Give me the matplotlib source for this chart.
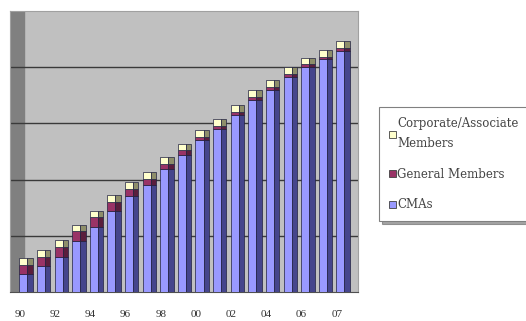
import matplotlib
matplotlib.use('Agg')
import matplotlib.pyplot as plt
from matplotlib.patches import Rectangle, Patch

# values (members, stacked)
labels = ['90', '92', '94', '96', '98', '00', '02', '04', '06', '07']
cmas = [32, 46, 63, 91, 115, 145, 170, 190, 218, 244, 270, 290, 315, 342, 360, 383, 400, 414, 429]
general = [16, 16, 17, 17, 18, 16, 13, 11, 10, 8, 6, 5, 5, 5, 5, 5, 5, 5, 5]
corporate = [12, 12, 12, 12, 12, 12, 12, 12, 12, 12, 12, 12, 12, 12, 12, 12, 12, 12, 12]

x = list(range(len(cmas)))
bottom_gen = cmas
bottom_corp = [c + g for c, g in zip(cmas, general)]

fig = plt.figure(figsize=(5.26, 3.21), dpi=100)
ax = fig.add_axes([10 / 526, 1 - 292 / 321, 348 / 526, 281 / 321])
ax.set_facecolor('#C0C0C0')

# darker side wall on the left
ax.add_patch(Rectangle((0, 0), 14 / 348, 1, transform=ax.transAxes,
                       color='#808080', zorder=0.5))

for v in [100, 200, 300, 400]:
    ax.axhline(v, color='#3a3a3a', lw=1.0, zorder=1)

front = [i - 0.38 for i in x]
side = [i + 0.08 for i in x]
segs = [
    (cmas, [0] * len(cmas), '#9999FF', '#45458C'),
    (general, bottom_gen, '#993366', '#5A1E3C'),
    (corporate, bottom_corp, '#FFFFCC', '#8E8E6A'),
]
for vals, bot, fc, sc in segs:
    ax.bar(front, vals, bottom=bot, width=0.46, align='edge', color=fc,
           edgecolor='#202040', linewidth=0.5, zorder=3)
    ax.bar(side, vals, bottom=bot, width=0.30, align='edge', color=sc,
           edgecolor='#202040', linewidth=0.5, zorder=3)

ax.set_xlim(-0.91, 18.85)
ax.set_ylim(0, 500)
ax.set_yticks([])
ax.set_xticks([i - 0.35 for i in x[::2]])
ax.set_xticklabels(labels, family='Liberation Serif', fontsize=8, color='#333333')
ax.tick_params(axis='x', length=0, pad=13)
for s in ['left', 'right', 'top']:
    ax.spines[s].set_color('#A0A0A0')
ax.spines['bottom'].set_color('#505050')

handles = [
    Patch(facecolor='#FFFFCC', edgecolor='#404040', linewidth=0.6),
    Patch(facecolor='#993366', edgecolor='#404040', linewidth=0.6),
    Patch(facecolor='#9999FF', edgecolor='#404040', linewidth=0.6),
]
names = ['Corporate/Associate\nMembers', 'General Members', 'CMAs']
leg = fig.legend(handles, names, loc='upper left',
                 bbox_to_anchor=(379 / 526, 1 - 107 / 321),
                 borderaxespad=0,
                 prop={'family': 'DejaVu Serif', 'size': 8.5},
                 handlelength=0.55, handleheight=0.55, handletextpad=0.15,
                 labelspacing=1.5, borderpad=0.85, fancybox=False,
                 frameon=True, shadow=True)
leg.get_frame().set_edgecolor('#808080')
leg.get_frame().set_linewidth(0.8)
for t in leg.get_texts():
    t.set_color('#444444')
    t.set_linespacing(1.7)

fig.savefig('out.png', dpi=100)
